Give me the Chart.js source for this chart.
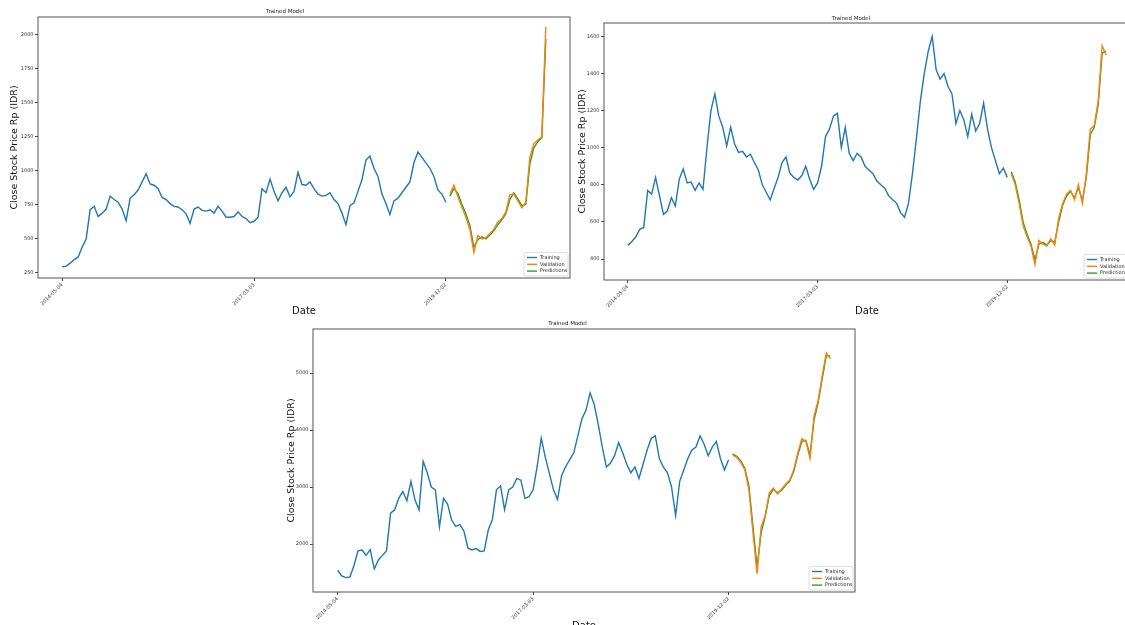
<!DOCTYPE html>
<html>
<head>
<meta charset="utf-8">
<title>Trained Model</title>
<script src="https://cdn.jsdelivr.net/npm/chart.js@4.4.1/dist/chart.umd.min.js"></script>
<style>
  html, body { margin: 0; padding: 0; background: #fff; }
  body { width: 1125px; height: 625px; overflow: hidden; position: relative; }
  canvas { position: absolute; }
  #c1 { left: 0; top: 0; }
  #c2 { left: 572px; top: 0; }
  #c3 { left: 280px; top: 310px; }
</style>
</head>
<body>
<canvas id="c1" width="580" height="320"></canvas>
<canvas id="c2" width="570" height="320"></canvas>
<canvas id="c3" width="590" height="322"></canvas>
<script>
// shared date axis: same trading days for all three stocks
var trainLen = 97;
var totalLen = 122;
var dateTicks = ['2014-05-04', '2017-03-03', '2019-12-02'];
var dateTickIdx = [0, 48, 96];

// stock 1
var train1 = [296, 300, 322, 348, 368, 440, 500, 715, 740, 665,
  690, 720, 815, 790, 770, 720, 635, 800, 825, 860,
  920, 980, 905, 895, 870, 805, 790, 760, 740, 735,
  715, 685, 615, 720, 735, 710, 705, 715, 690, 740,
  705, 660, 660, 665, 700, 665, 650, 620, 630, 660,
  870, 840, 940, 850, 780, 840, 880, 810, 850, 990,
  900, 895, 920, 870, 830, 815, 820, 840, 790, 760,
  690, 605, 745, 765, 850, 935, 1080, 1110, 1020, 960,
  830, 760, 680, 780, 800, 840, 880, 920, 1060, 1140,
  1100, 1060, 1020, 960, 860, 830, 770];
var valid1 = [830, 895, 810, 735, 660, 570, 400, 525, 500, 510, 540, 570, 625,
  650, 700, 825, 830, 780, 730, 770, 1100, 1200, 1230, 1250, 2060];
var pred1 = [815, 870, 835, 755, 685, 600, 440, 495, 515, 500, 530, 560, 605,
  640, 685, 790, 840, 795, 745, 755, 1050, 1170, 1215, 1245, 1970];
var yTicks1 = [250, 500, 750, 1000, 1250, 1500, 1750, 2000];

// stock 2
var train2 = [475, 495, 520, 560, 570, 770, 750, 840, 740, 640,
  660, 730, 685, 830, 885, 810, 815, 770, 810, 775,
  1000, 1200, 1290, 1170, 1110, 1010, 1110, 1020, 975, 980,
  950, 965, 920, 880, 800, 760, 718, 780, 840, 920,
  950, 862, 840, 826, 850, 900, 830, 775, 810, 900,
  1060, 1100, 1170, 1185, 1000, 1110, 970, 930, 970, 950,
  900, 880, 860, 820, 800, 780, 740, 720, 700, 650,
  625, 700, 860, 1050, 1250, 1400, 1520, 1600, 1420, 1370,
  1400, 1330, 1290, 1130, 1200, 1150, 1060, 1180, 1090, 1130,
  1240, 1100, 1000, 930, 860, 890, 840];
var valid2 = [860, 800, 700, 580, 520, 470, 370, 500, 480, 470, 510, 475, 620,
  700, 750, 770, 720, 800, 700, 860, 1100, 1120, 1250, 1550, 1500];
var pred2 = [870, 815, 720, 600, 535, 480, 395, 480, 490, 475, 500, 490, 600,
  690, 740, 765, 730, 785, 715, 840, 1070, 1110, 1230, 1510, 1520];
var yTicks2 = [400, 600, 800, 1000, 1200, 1400, 1600];

// stock 3
var train3 = [1540, 1440, 1410, 1420, 1620, 1880, 1895, 1800, 1900, 1560,
  1720, 1800, 1880, 2540, 2600, 2800, 2920, 2760, 3100, 2770,
  2600, 3450, 3250, 3000, 2950, 2300, 2800, 2700, 2420, 2310,
  2340, 2230, 1930, 1895, 1920, 1870, 1880, 2250, 2430, 2950,
  3020, 2600, 2950, 3000, 3150, 3120, 2800, 2830, 2950, 3360,
  3860, 3520, 3240, 2950, 2780, 3200, 3360, 3480, 3600, 3900,
  4200, 4350, 4650, 4450, 4100, 3700, 3350, 3420, 3550, 3780,
  3600, 3400, 3250, 3350, 3150, 3400, 3650, 3850, 3900, 3500,
  3350, 3250, 3000, 2500, 3100, 3300, 3500, 3650, 3700, 3900,
  3750, 3550, 3700, 3800, 3500, 3300, 3480];
var valid3 = [3560, 3520, 3430, 3300, 2950, 2200, 1480, 2300, 2500, 2900, 2980, 2880, 2960,
  3050, 3120, 3300, 3600, 3850, 3800, 3500, 4250, 4520, 4950, 5350, 5250];
var pred3 = [3580, 3540, 3460, 3330, 3020, 2300, 1600, 2200, 2480, 2850, 2960, 2900, 2940,
  3030, 3100, 3270, 3560, 3800, 3820, 3560, 4180, 4480, 4900, 5300, 5300];
var yTicks3 = [2000, 3000, 4000, 5000];

Chart.defaults.font.family = '"DejaVu Sans", sans-serif';
Chart.defaults.color = '#333';

function toPoints(vals, start) {
  return vals.map(function (v, i) { return { x: start + i, y: v }; });
}

// box around the plot area, like matplotlib spines
var frame = {
  id: 'frame',
  afterDatasetsDraw: function (chart) {
    var a = chart.chartArea, ctx = chart.ctx;
    ctx.save();
    ctx.strokeStyle = '#555';
    ctx.lineWidth = 1;
    ctx.strokeRect(a.left, a.top, a.right - a.left, a.bottom - a.top);
    ctx.restore();
  }
};

// legend in the lower right corner of the plot
var cornerLegend = {
  id: 'cornerLegend',
  afterDraw: function (chart) {
    var ctx = chart.ctx, a = chart.chartArea;
    var sets = chart.data.datasets;
    var rowH = 6.8, w = 44, h = rowH * sets.length + 3;
    var x = a.right - w - 2, y = a.bottom - h - 2;
    ctx.save();
    ctx.fillStyle = 'rgba(255,255,255,0.85)';
    ctx.strokeStyle = '#d4d4d4';
    ctx.lineWidth = 0.8;
    ctx.beginPath();
    if (ctx.roundRect) ctx.roundRect(x, y, w, h, 1.5); else ctx.rect(x, y, w, h);
    ctx.fill();
    ctx.stroke();
    ctx.font = '5px "DejaVu Sans"';
    ctx.textBaseline = 'middle';
    sets.forEach(function (ds, k) {
      var cy = y + 1.5 + rowH * (k + 0.5);
      ctx.strokeStyle = ds.borderColor;
      ctx.lineWidth = 1.4;
      ctx.beginPath();
      ctx.moveTo(x + 3, cy);
      ctx.lineTo(x + 13, cy);
      ctx.stroke();
      ctx.fillStyle = '#222';
      ctx.fillText(ds.label, x + 16, cy);
    });
    ctx.restore();
  }
};

function makeChart(id, train, valid, pred, yTicks, yMin, yMax, lay) {
  var ctx = document.getElementById(id).getContext('2d');
  return new Chart(ctx, {
    type: 'line',
    data: {
      datasets: [
        { label: 'Training', data: toPoints(train, 0), borderColor: '#1f77b4' },
        { label: 'Validation', data: toPoints(valid, trainLen), borderColor: '#ff7f0e' },
        { label: 'Predictions', data: toPoints(pred, trainLen), borderColor: '#2ca02c' }
      ]
    },
    options: {
      responsive: false,
      animation: false,
      layout: { padding: { left: 0, right: lay.padRight, top: 0, bottom: 0 } },
      elements: {
        line: { borderWidth: 1.4, tension: 0, fill: false },
        point: { radius: 0, hoverRadius: 0 }
      },
      plugins: {
        legend: { display: false },
        tooltip: { enabled: false },
        title: {
          display: true,
          text: 'Trained Model',
          color: '#222',
          font: { size: 5.5, weight: 'normal' },
          padding: { top: lay.titleTop, bottom: lay.titleBottom }
        }
      },
      scales: {
        x: {
          type: 'linear',
          min: -0.05 * (totalLen - 1),
          max: 1.05 * (totalLen - 1),
          afterBuildTicks: function (s) {
            s.ticks = dateTickIdx.map(function (v) { return { value: v }; });
          },
          afterFit: function (s) { s.height = lay.xHeight; },
          ticks: {
            autoSkip: false,
            minRotation: 45,
            maxRotation: 45,
            padding: 1,
            font: { size: 5 },
            color: '#333',
            callback: function (v) { return dateTicks[dateTickIdx.indexOf(v)]; }
          },
          grid: { drawOnChartArea: false, tickLength: 3, color: '#444' },
          border: { display: false },
          title: {
            display: true,
            text: 'Date',
            color: '#111',
            font: { size: 10 },
            padding: { top: 0, bottom: lay.dateBottom }
          }
        },
        y: {
          min: yMin,
          max: yMax,
          afterBuildTicks: function (s) {
            s.ticks = yTicks.map(function (v) { return { value: v }; });
          },
          afterFit: function (s) { s.width = lay.yWidth; },
          ticks: {
            padding: 1.5,
            font: { size: 5 },
            color: '#333',
            callback: function (v) { return String(v); }
          },
          grid: { drawOnChartArea: false, tickLength: 3, color: '#444' },
          border: { display: false },
          title: {
            display: true,
            text: 'Close Stock Price Rp (IDR)',
            color: '#111',
            font: { size: 9.5 },
            padding: { top: lay.yTitlePad, bottom: 0 }
          }
        }
      }
    },
    plugins: [frame, cornerLegend]
  });
}

makeChart('c1', train1, valid1, pred1, yTicks1, 213, 2132,
  { padRight: 10, titleTop: 8.7, titleBottom: 1.7, xHeight: 42, yWidth: 38, yTitlePad: 9.3, dateBottom: 2.3 });
makeChart('c2', train2, valid2, pred2, yTicks2, 287, 1672,
  { padRight: 12, titleTop: 15.4, titleBottom: 1, xHeight: 40, yWidth: 32, yTitlePad: 5.3, dateBottom: 3 });
makeChart('c3', train3, valid3, pred3, yTicks3, 1158, 5772,
  { padRight: 15, titleTop: 10.7, titleBottom: 1.7, xHeight: 40, yWidth: 33, yTitlePad: 6.3, dateBottom: 0 });
</script>
</body>
</html>
